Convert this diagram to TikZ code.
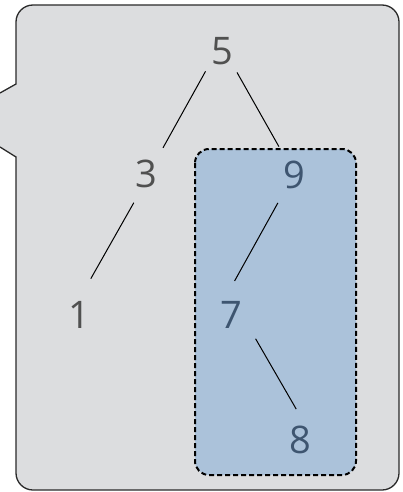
\documentclass[tikz,border=0pt]{standalone}
\usepackage{fontspec}
\setmainfont{Open Sans}
\definecolor{calloutfill}{HTML}{DCDDDF}
\definecolor{bluefill}{HTML}{ABC2DA}
\definecolor{greytext}{HTML}{505050}
\definecolor{bluetext}{HTML}{3E5570}
\definecolor{bordercol}{HTML}{2A2A2A}
\begin{document}
\begin{tikzpicture}[x=1pt,y=-1pt,
  digit/.style={circle,inner sep=0pt,font=\fontsize{38}{40}\selectfont,text=greytext},
  bluedigit/.style={digit,text=bluetext},
  edge/.style={draw=black,line width=1pt},
  calloutline/.style={draw=bordercol,line width=1.3pt},
  groupbox/.style={draw=black,fill=bluefill,line width=2pt,dash pattern=on 5pt off 3pt,rounded corners=14pt}
]
\useasboundingbox (0,0) rectangle (402,492);
% callout body
\filldraw[calloutline,fill=calloutfill,rounded corners=17pt] (16,5) rectangle (399,490);
% pointer
\fill[calloutfill] (17.5,84) -- (0,93) -- (0,147) -- (17.5,157) -- cycle;
\draw[calloutline] (16,84) -- (0,93);
\draw[calloutline] (0,147) -- (16,157);
% group box
\draw[groupbox] (195,149) rectangle (356,475);
% nodes
\node[digit,minimum size=52pt] (n5) at (222,51) {5};
\node[digit,minimum size=62pt] (n3) at (146,174) {3};
\node[digit,minimum size=76pt] (n1) at (79,315) {1};
\node[bluedigit,minimum size=64pt] (n9) at (294,175) {9};
\node[bluedigit,minimum size=68pt] (n7) at (231,315) {7};
\node[bluedigit,minimum size=62pt] (n8) at (300,440) {8};
% edges
\draw[edge] (n5.231) -- (n3.57);
\draw[edge] (n5.305) -- (n9.118);
\draw[edge] (n3.247) -- (n1.72);
\draw[edge] (n9.240) -- (n7.84);
\draw[edge] (n7.316) -- (n8.97);
\end{tikzpicture}
\end{document}
